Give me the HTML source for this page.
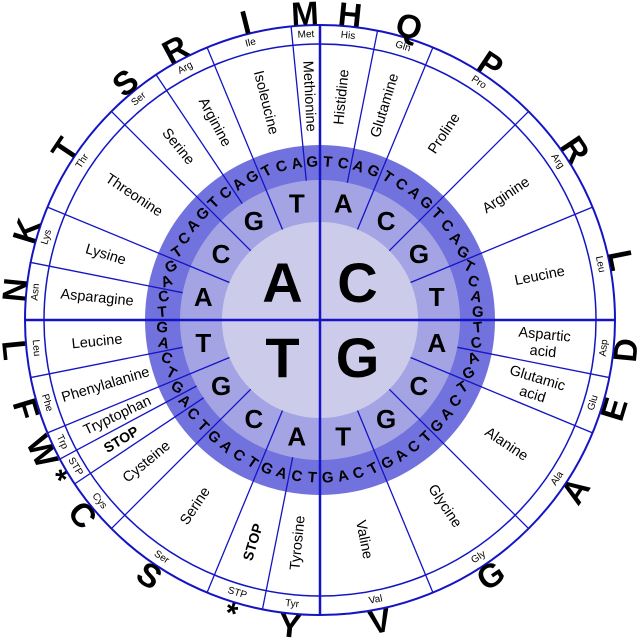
<!DOCTYPE html>
<html><head><meta charset="utf-8">
<style>
html,body{margin:0;padding:0;background:#fff;}
svg{display:block;}
text{font-family:"Liberation Sans",sans-serif;}
</style></head>
<body>
<svg id="s" width="640" height="639" viewBox="0 0 640 639" xmlns="http://www.w3.org/2000/svg"></svg>
<script>
const S=document.getElementById('s');
const NS='http://www.w3.org/2000/svg';
const cx=320,cy=320,LC='#1414c4';
function el(t,a,txt){const e=document.createElementNS(NS,t);for(const k in a)e.setAttribute(k,a[k]);if(txt!==undefined)e.textContent=txt;S.appendChild(e);return e;}
function P(r,t){const a=t*Math.PI/180;return [cx+r*Math.sin(a),cy-r*Math.cos(a)];}
function norm(t){t=((t%360)+360)%360;return t;}
function tang(t){t=norm(t);if(t>180)t-=360;if(t>90)t-=180;if(t<-90)t+=180;return t;}
function radial(t){t=norm(t);return t<180?t-90:t-270;}
function txt(r,t,rot,s,attrs){const [x,y]=P(r,t);const a=Object.assign({x:x,y:y,'text-anchor':'middle','dominant-baseline':'central',transform:`rotate(${rot} ${x} ${y})`},attrs||{});return el('text',a,s);}

el('circle',{cx,cy,r:295,fill:'#fff',stroke:LC,'stroke-width':2});
el('circle',{cx,cy,r:276,fill:'none',stroke:LC,'stroke-width':1.5});
el('circle',{cx,cy,r:175,fill:'#7272de'});
el('circle',{cx,cy,r:140,fill:'#a4a4e4'});
el('circle',{cx,cy,r:98,fill:'#ccccea'});

const D=5.625;
const R=[[0,1,'Histidine','His','H'],[2,3,'Glutamine','Gln','Q'],[4,7,'Proline','Pro','P'],[8,11,'Arginine','Arg','R'],[12,15,'Leucine','Leu','L'],
[16,17,'Aspartic|acid','Asp','D'],[18,19,'Glutamic|acid','Glu','E'],[20,23,'Alanine','Ala','A'],[24,27,'Glycine','Gly','G'],[28,31,'Valine','Val','V'],
[32,33,'Tyrosine','Tyr','Y'],[34,35,'STOP','STP','*'],[36,39,'Serine','Ser','S'],[40,41,'Cysteine','Cys','C'],[42,42,'STOP','STP','*'],[43,43,'Tryptophan','Trp','W'],[44,45,'Phenylalanine','Phe','F'],[46,47,'Leucine','Leu','L'],
[48,49,'Asparagine','Asn','N'],[50,51,'Lysine','Lys','K'],[52,55,'Threonine','Thr','T'],[56,57,'Serine','Ser','S'],[58,59,'Arginine','Arg','R'],[60,62,'Isoleucine','Ile','I'],[63,63,'Methionine','Met','M']];

// boundary lines
R.forEach(r=>{const i=r[0];const t=i*D;
  if(i%16===0)return;
  const r0=(i%4===0)?98:140;
  const a=P(r0,t),b=P(295,t);
  el('line',{x1:a[0],y1:a[1],x2:b[0],y2:b[1],stroke:LC,'stroke-width':1.3});
});
// cross
el('line',{x1:25,y1:cy,x2:615,y2:cy,stroke:LC,'stroke-width':2.5});
el('line',{x1:cx,y1:25,x2:cx,y2:615,stroke:LC,'stroke-width':2.5});

// third letters
for(let i=0;i<64;i++){const t=(i+0.5)*D;const rot=45*Math.sin(2*t*Math.PI/180);
  txt(158,t,rot,'TCAG'[i%4],{'font-size':15,'font-weight':'bold',fill:'#000'});}
// second letters
for(let g=0;g<16;g++){const t=(g+0.5)*22.5;txt(119,t,0,'ACGT'[g%4],{'font-size':26,'font-weight':'bold',fill:'#000'});}
// first letters
for(let q=0;q<4;q++){const t=45+90*q;txt(53,t,0,'CGTA'[q],{'font-size':56,'font-weight':'bold',fill:'#000'});}

// names, abbreviations, outer letters
R.forEach(r=>{const t=(r[0]+r[1]+1)/2*D;
  const rr=radial(t);
  const isStop=r[2]==='STOP';
  const at={'font-size':isStop?14:14.5,fill:'#000'};if(isStop)at['font-weight']='bold';
  if(r[2].includes('|')){const [x,y]=P(225,t);const parts=r[2].split('|');
    const e=el('text',{x:x,y:y,'text-anchor':'middle','font-size':14.5,transform:`rotate(${rr} ${x} ${y})`});
    parts.forEach((p,k)=>{const ts=document.createElementNS(NS,'tspan');ts.setAttribute('x',x);ts.setAttribute('dy',k===0?'-3':'17');ts.textContent=p;e.appendChild(ts);});
  } else txt(isStop?232:224,t,rr,r[2],at);
  txt(285.5,t,tang(t),r[3],{'font-size':10,fill:'#000'});
  txt(307,t,tang(t),r[4],{'font-size':r[4]==='*'?30:33,'font-weight':'bold',fill:'#000'});
});
</script>
</body></html>
